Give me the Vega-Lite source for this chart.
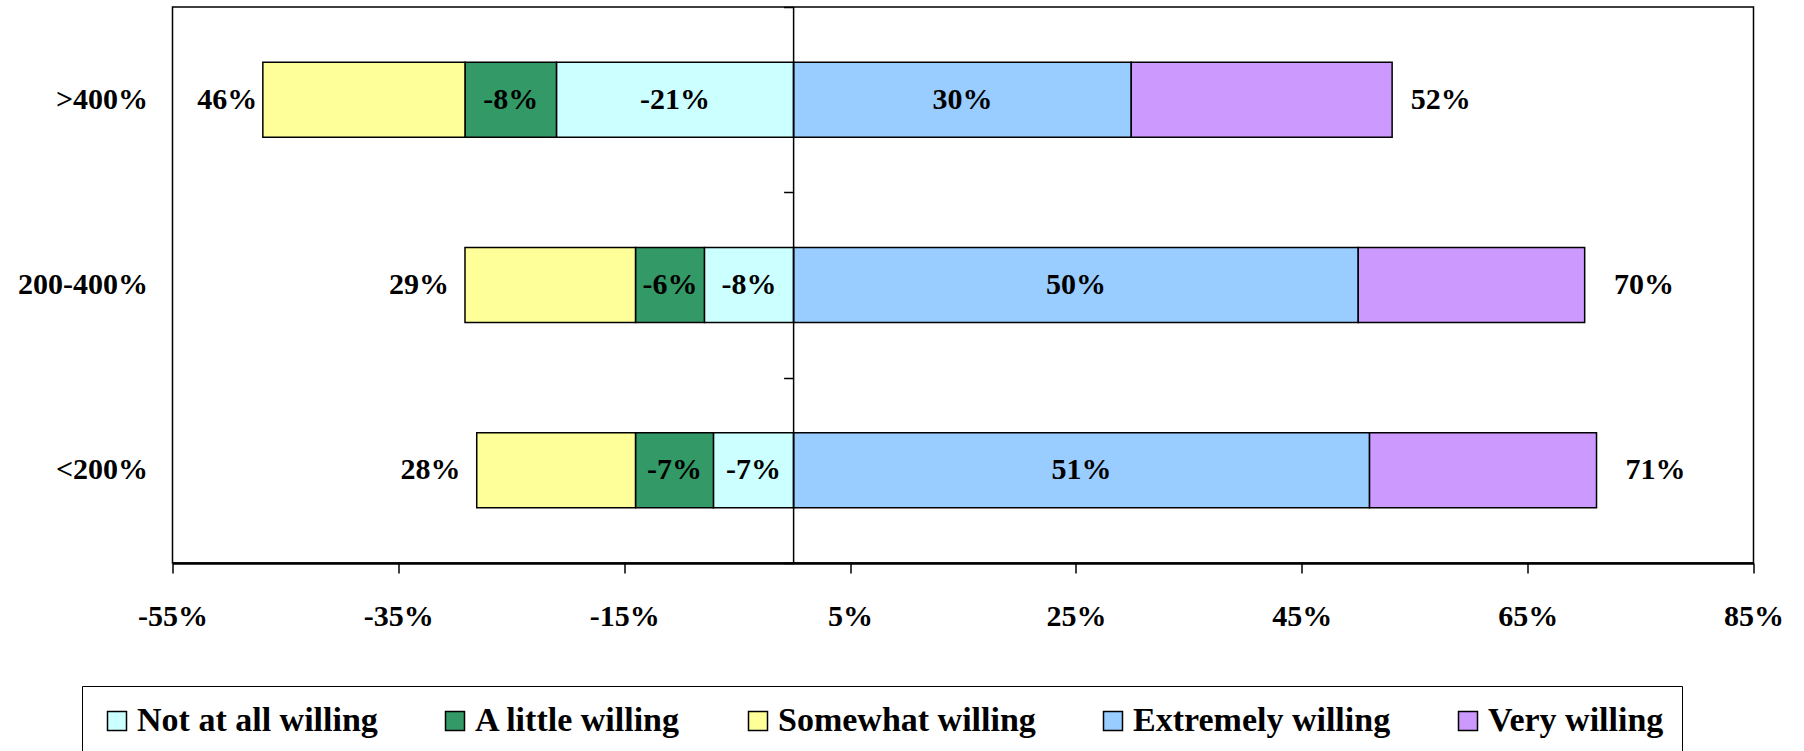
{
  "$schema": "https://vega.github.io/schema/vega-lite/v6.json",
  "width": 1581,
  "height": 556,
  "autosize": {"type": "none"},
  "padding": {"left": 172.5, "top": 7, "right": 50.5, "bottom": 188},
  "background": "white",
  "config": {
    "font": "Liberation Serif",
    "view": {"stroke": "black", "strokeWidth": 1.5},
    "locale": {"number": {"decimal": ".", "thousands": ",", "grouping": [3], "currency": ["$", ""], "minus": "-"}},
    "axisX": {
      "labelFont": "Liberation Serif",
      "labelFontSize": 30,
      "labelFontWeight": "bold",
      "labelColor": "black",
      "labelPadding": 28,
      "labelFlush": false,
      "labelOverlap": false,
      "tickSize": 10,
      "tickColor": "black",
      "tickWidth": 1.5,
      "domainColor": "black",
      "domainWidth": 2.5,
      "grid": false
    }
  },
  "datasets": {
    "segments": [
      {"group": ">400%", "category": "Not at all willing", "value": -0.21},
      {"group": ">400%", "category": "A little willing", "value": -0.081},
      {"group": ">400%", "category": "Somewhat willing", "value": -0.179},
      {"group": ">400%", "category": "Extremely willing", "value": 0.299},
      {"group": ">400%", "category": "Very willing", "value": 0.231},
      {"group": "200-400%", "category": "Not at all willing", "value": -0.079},
      {"group": "200-400%", "category": "A little willing", "value": -0.061},
      {"group": "200-400%", "category": "Somewhat willing", "value": -0.151},
      {"group": "200-400%", "category": "Extremely willing", "value": 0.5},
      {"group": "200-400%", "category": "Very willing", "value": 0.2005},
      {"group": "<200%", "category": "Not at all willing", "value": -0.071},
      {"group": "<200%", "category": "A little willing", "value": -0.069},
      {"group": "<200%", "category": "Somewhat willing", "value": -0.1406},
      {"group": "<200%", "category": "Extremely willing", "value": 0.51},
      {"group": "<200%", "category": "Very willing", "value": 0.201}
    ],
    "totals": [
      {"group": ">400%", "total": -0.46, "label": "46%"},
      {"group": ">400%", "total": 0.52, "label": "52%"},
      {"group": "200-400%", "total": -0.29, "label": "29%"},
      {"group": "200-400%", "total": 0.70, "label": "70%"},
      {"group": "<200%", "total": -0.28, "label": "28%"},
      {"group": "<200%", "total": 0.71, "label": "71%"}
    ]
  },
  "layer": [
    {
      "data": {"name": "segments"},
      "transform": [{"stack": "value", "groupby": ["group"], "as": ["v0", "v1"]}],
      "mark": {"type": "bar", "height": {"band": 0.405}, "stroke": "black", "strokeWidth": 1.5},
      "encoding": {
        "y": {
          "field": "group", "type": "nominal",
          "scale": {"domain": [">400%", "200-400%", "<200%"], "paddingInner": 0, "paddingOuter": 0},
          "axis": {
            "title": null, "orient": "left", "ticks": false, "domain": false, "grid": false,
            "labelFont": "Liberation Serif", "labelFontSize": 30, "labelFontWeight": "bold",
            "labelColor": "black", "labelPadding": 25
          }
        },
        "x": {
          "field": "v0", "type": "quantitative",
          "scale": {"domain": [-0.55, 0.85], "nice": false, "zero": false},
          "axis": {
            "title": null,
            "values": [-0.55, -0.35, -0.15, 0.05, 0.25, 0.45, 0.65, 0.85],
            "format": ".0%",
            "labelFont": "Liberation Serif", "labelFontSize": 30, "labelFontWeight": "bold", "labelColor": "black",
            "labelPadding": 28, "labelFlush": false, "labelOverlap": false,
            "tickSize": 10, "tickColor": "black", "tickWidth": 1.5,
            "domainColor": "black", "domainWidth": 2.5, "grid": false
          }
        },
        "x2": {"field": "v1"},
        "color": {
          "field": "category", "type": "nominal",
          "scale": {
            "domain": ["Not at all willing", "A little willing", "Somewhat willing", "Extremely willing", "Very willing"],
            "range": ["#CCFFFF", "#339966", "#FFFF99", "#99CCFF", "#CC99FF"]
          },
          "legend": {
            "title": null, "orient": "none", "legendX": -90.5, "legendY": 679,
            "direction": "horizontal", "columns": 5,
            "symbolType": "square", "symbolSize": 361, "symbolStrokeColor": "black", "symbolStrokeWidth": 1.5, "symbolOpacity": 1,
            "labelFont": "Liberation Serif", "labelFontSize": 34, "labelFontWeight": "bold", "labelColor": "black",
            "labelOffset": 3, "labelLimit": 500, "columnPadding": 60, "padding": 18,
            "strokeColor": "black", "fillColor": "white"
          }
        }
      }
    },
    {
      "data": {"values": [{}]},
      "mark": {"type": "rule", "color": "black", "strokeWidth": 1.5},
      "encoding": {"x": {"datum": 0, "type": "quantitative", "scale": {"domain": [-0.55, 0.85], "nice": false, "zero": false}, "axis": {"title": null}}}
    },
    {
      "data": {"name": "segments"},
      "transform": [
        {"stack": "value", "groupby": ["group"], "as": ["v0", "v1"]},
        {"filter": {"field": "category", "oneOf": ["Not at all willing", "A little willing", "Extremely willing"]}},
        {"calculate": "(datum.v0 + datum.v1) / 2", "as": "mid"}
      ],
      "mark": {"type": "text", "font": "Liberation Serif", "fontSize": 30, "fontWeight": "bold", "color": "black", "baseline": "middle"},
      "encoding": {
        "x": {"field": "mid", "type": "quantitative", "scale": {"domain": [-0.55, 0.85], "nice": false, "zero": false}, "axis": {"title": null}},
        "y": {
          "field": "group", "type": "nominal",
          "scale": {"domain": [">400%", "200-400%", "<200%"], "paddingInner": 0, "paddingOuter": 0},
          "axis": {
            "title": null, "orient": "left", "offset": {"expr": "-scale('x', 0)"},
            "labels": false, "domain": false, "grid": false, "ticks": true, "tickBand": "extent",
            "tickSize": 10, "tickColor": "black", "tickWidth": 1.5
          }
        },
        "text": {"field": "value", "type": "quantitative", "format": ".0%"}
      }
    },
    {
      "data": {"name": "totals"},
      "transform": [{"filter": "datum.total < 0"}],
      "mark": {"type": "text", "font": "Liberation Serif", "fontSize": 30, "fontWeight": "bold", "color": "black", "baseline": "middle", "align": "right", "dx": -17},
      "encoding": {
        "x": {"field": "total", "type": "quantitative", "scale": {"domain": [-0.55, 0.85], "nice": false, "zero": false}, "axis": {"title": null}},
        "y": {"field": "group", "type": "nominal", "scale": {"domain": [">400%", "200-400%", "<200%"], "paddingInner": 0, "paddingOuter": 0}, "axis": null},
        "text": {"field": "label", "type": "nominal"}
      }
    },
    {
      "data": {"name": "totals"},
      "transform": [{"filter": "datum.total > 0"}],
      "mark": {"type": "text", "font": "Liberation Serif", "fontSize": 30, "fontWeight": "bold", "color": "black", "baseline": "middle", "align": "left", "dx": 30},
      "encoding": {
        "x": {"field": "total", "type": "quantitative", "scale": {"domain": [-0.55, 0.85], "nice": false, "zero": false}, "axis": {"title": null}},
        "y": {"field": "group", "type": "nominal", "scale": {"domain": [">400%", "200-400%", "<200%"], "paddingInner": 0, "paddingOuter": 0}, "axis": null},
        "text": {"field": "label", "type": "nominal"}
      }
    }
  ],
  "resolve": {"axis": {"y": "independent"}}
}
